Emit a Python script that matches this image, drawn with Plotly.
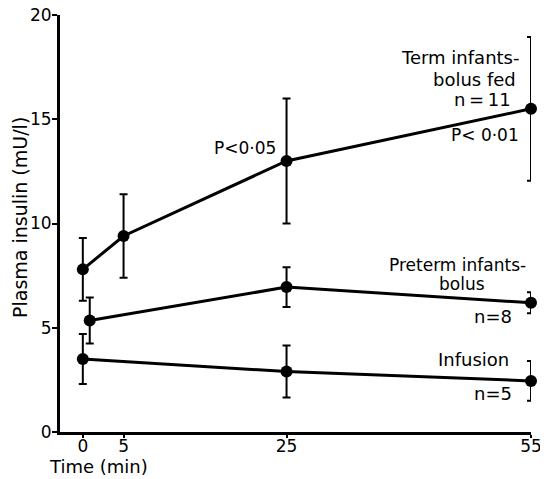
import plotly.graph_objects as go

# Data
term_x = [0, 5, 25, 55]
term_y = [7.8, 9.4, 13.0, 15.5]
term_err = [1.5, 2.0, 3.0, 3.45]

preterm_x = [0.85, 25, 55]
preterm_y = [5.35, 6.95, 6.2]
preterm_err = [1.1, 0.95, 0.5]

infusion_x = [0, 25, 55]
infusion_y = [3.5, 2.9, 2.45]
infusion_err = [1.2, 1.25, 0.95]

x_ticks = [0, 5, 25, 55]
y_ticks = [0, 5, 10, 15, 20]

FONT = "DejaVu Sans"
OFF = 8  # page body margin
W, H = 548 - OFF, 479 - OFF
L, R, T, B = 60 - OFF, 17, 15 - OFF, 47

fig = go.Figure()
for xs, ys, es in [(term_x, term_y, term_err), (preterm_x, preterm_y, preterm_err),
                   (infusion_x, infusion_y, infusion_err)]:
    fig.add_trace(go.Scatter(
        x=xs, y=ys, mode="lines+markers",
        line=dict(color="black", width=3),
        marker=dict(color="black", size=12),
        error_y=dict(type="data", array=es, visible=True, color="black", thickness=2, width=4),
        showlegend=False, cliponaxis=False))

def px2x(px):
    return (px - 83) / 8.15

def px2y(py):
    return (432 - py) / 20.85

# text, page-x, page-y (centre), xanchor, size
ann = [
    ("Term infants-", 521, 57, "right", 18),
    ("bolus fed", 518, 79, "right", 18),
    ("n\u2009=\u200911", 513, 99, "right", 18),
    ("P< 0·01", 521, 135, "right", 17),
    ("P<0·05", 278, 148, "right", 17),
    ("Preterm infants-", 458, 265, "center", 17),
    ("bolus", 462, 284, "center", 17),
    ("n=8", 514, 316, "right", 18),
    ("Infusion", 511, 359, "right", 18),
    ("n=5", 514, 393, "right", 18),
]
annotations = []
for text, px, py, xa, sz in ann:
    annotations.append(dict(text=text, x=px2x(px), y=px2y(py), xref="x", yref="y",
                            xanchor=xa, yanchor="middle", showarrow=False,
                            font=dict(family=FONT, size=sz, color="black")))

def paperx(px):
    return (px - OFF - L) / (W - L - R)

def papery(py):
    return (H - B - (py - OFF)) / (H - T - B)

annotations.append(dict(text="Time (min)", x=paperx(47), y=papery(467), xref="paper", yref="paper",
                        xanchor="left", yanchor="middle", showarrow=False,
                        font=dict(family=FONT, size=18, color="black")))
annotations.append(dict(text="Plasma insulin (mU/l)", x=paperx(20), y=papery(218), xref="paper",
                        yref="paper", xanchor="center", yanchor="middle", textangle=-90,
                        showarrow=False, font=dict(family=FONT, size=19, color="black")))

fig.update_layout(
    width=W, height=H,
    margin=dict(l=L, r=R, t=T, b=B),
    plot_bgcolor="white", paper_bgcolor="white",
    font=dict(family=FONT, size=17, color="black"),
    annotations=annotations,
    xaxis=dict(range=[-2.8, 55], tickvals=x_ticks, ticktext=[str(v) for v in x_ticks],
               showgrid=False, zeroline=False, showline=True, linecolor="black", linewidth=3,
               ticks="outside", ticklen=3, tickwidth=2, tickcolor="black", automargin=False,
               ticklabelstandoff=-6, ticklabeloverflow="allow",
               tickfont=dict(family=FONT, size=17)),
    yaxis=dict(range=[0, 20], tickvals=y_ticks, showgrid=False, zeroline=False,
               showline=True, linecolor="black", linewidth=3, automargin=False,
               ticks="outside", ticklen=5, tickwidth=2, tickcolor="black",
               ticklabelstandoff=-3, ticklabeloverflow="allow",
               tickfont=dict(family=FONT, size=17)),
)

fig.write_html("out.html")
